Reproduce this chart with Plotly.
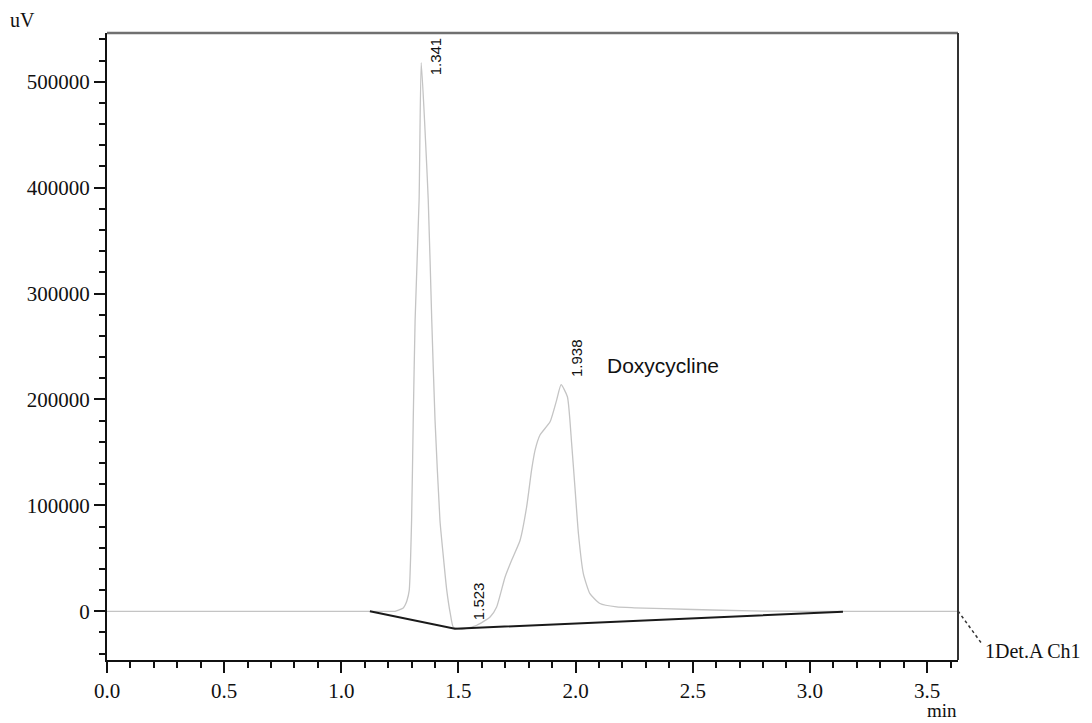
import plotly.graph_objects as go

# Chromatogram signal (time in min, signal in uV)
time_min = [0.0, 1.20, 1.229, 1.263, 1.272, 1.280, 1.290, 1.300, 1.307, 1.315, 1.332, 1.341,
            1.371, 1.386, 1.400, 1.421, 1.434, 1.450, 1.465, 1.478, 1.515, 1.578, 1.635, 1.663,
            1.699, 1.727, 1.763, 1.791, 1.812, 1.827, 1.848, 1.891, 1.919, 1.938, 1.965, 1.983,
            1.997, 2.012, 2.033, 2.061, 2.104, 2.175, 2.25, 2.50, 2.75, 3.0, 3.7]
signal_uv = [0, 0, 0, 2800, 5700, 10000, 20000, 86000, 180500, 275000, 388500, 518000,
             388500, 275000, 180500, 86000, 55000, 20000, -2000, -15000, -17000, -13200, -5400, 4100,
             32400, 48200, 67100, 98600, 133300, 152200, 166400, 178900, 199400, 214000, 202600, 158500,
             117500, 73400, 35600, 16700, 7300, 4100, 3300, 1700, 300, 0, 0]

# Integration baseline
baseline_t = [1.122, 1.485, 3.141]
baseline_v = [0, -16500, -500]

peak_labels = ["1.341", "1.523", "1.938"]
peak_label_x = [1.400, 1.583, 2.004]
peak_label_y = [524000, 9500, 238700]
compound_name = "Doxycycline"

# page geometry (the html body adds an 8px margin)
OFF = 8
PAGE_W, PAGE_H = 1092, 723
W, H = PAGE_W - OFF, PAGE_H - OFF
PL, PR, PT, PB = 107, 958, 33, 660        # plot area in page pixels
L, T = PL - OFF, PT - OFF
R, B = W - (PR - OFF), H - (PB - OFF)
pw, ph = PR - PL, PB - PT
def px(x):
    return (x - PL) / pw
def py(y):
    return (PB - y) / ph

fig = go.Figure()
fig.add_trace(go.Scatter(x=time_min, y=signal_uv, mode="lines",
                         line=dict(color="#c4c4c4", width=1.3, shape="spline", smoothing=0.5),
                         showlegend=False, hoverinfo="skip"))
fig.add_trace(go.Scatter(x=baseline_t, y=baseline_v, mode="lines",
                         line=dict(color="#1a1a1a", width=2), showlegend=False,
                         hoverinfo="skip"))

serif = "Liberation Serif, Times New Roman, serif"
sans = "Liberation Sans, Arial, sans-serif"

annotations = []
for lab, ax_, ay_ in zip(peak_labels, peak_label_x, peak_label_y):
    annotations.append(dict(x=ax_, y=ay_, xref="x", yref="y", text=lab, showarrow=False,
                            textangle=-90, font=dict(family=sans, size=15, color="#111"),
                            xanchor="center", yanchor="middle"))
annotations.append(dict(x=2.125, y=232500, xref="x", yref="y", text=compound_name,
                        showarrow=False, font=dict(family=sans, size=21, color="#111"),
                        xanchor="left", yanchor="middle"))
annotations.append(dict(x=px(22), y=py(20), xref="paper", yref="paper", text="uV",
                        showarrow=False, font=dict(family=serif, size=20, color="#111"),
                        xanchor="center", yanchor="middle"))
annotations.append(dict(x=px(959), y=py(710), xref="paper", yref="paper", text="min",
                        showarrow=False, font=dict(family=serif, size=19, color="#111"),
                        xanchor="right", yanchor="middle"))
annotations.append(dict(x=px(983), y=py(651), xref="paper", yref="paper", text="1Det.A Ch1",
                        showarrow=False, font=dict(family=serif, size=20, color="#111"),
                        xanchor="left", yanchor="middle"))

fig.update_layout(
    width=W, height=H,
    margin=dict(l=L, r=R, t=T, b=B, autoexpand=False),
    plot_bgcolor="white", paper_bgcolor="white",
    annotations=annotations,
    xaxis=dict(range=[0, 3.632], tick0=0, dtick=0.5, tickformat=".1f",
               showgrid=False, zeroline=False, showline=True, linecolor="#111", linewidth=2,
               ticks="outside", ticklen=11, tickwidth=2, tickcolor="#111",
               minor=dict(dtick=0.1, tick0=0, ticks="outside", ticklen=6, tickwidth=2, tickcolor="#111"),
               tickfont=dict(family=serif, size=21, color="#111")),
    yaxis=dict(range=[-46000, 546000], tick0=0, dtick=100000, tickformat="d",
               showgrid=False, zeroline=False, showline=True, linecolor="#111", linewidth=2,
               ticks="outside", ticklen=11, tickwidth=2, tickcolor="#111",
               minor=dict(dtick=20000, tick0=0, ticks="outside", ticklen=6, tickwidth=2, tickcolor="#111"),
               tickfont=dict(family=serif, size=21, color="#111")),
    shapes=[
        dict(type="line", xref="paper", yref="paper", x0=0, x1=1, y0=1, y1=1,
             line=dict(color="#707070", width=2.5)),
        dict(type="line", xref="paper", yref="paper", x0=1, x1=1, y0=0, y1=1,
             line=dict(color="#333333", width=2)),
        dict(type="line", xref="paper", yref="paper", x0=1, x1=px(982), y0=py(611), y1=py(644),
             line=dict(color="#333333", width=1.5, dash="dot")),
    ],
)

fig.write_html("out.html")
